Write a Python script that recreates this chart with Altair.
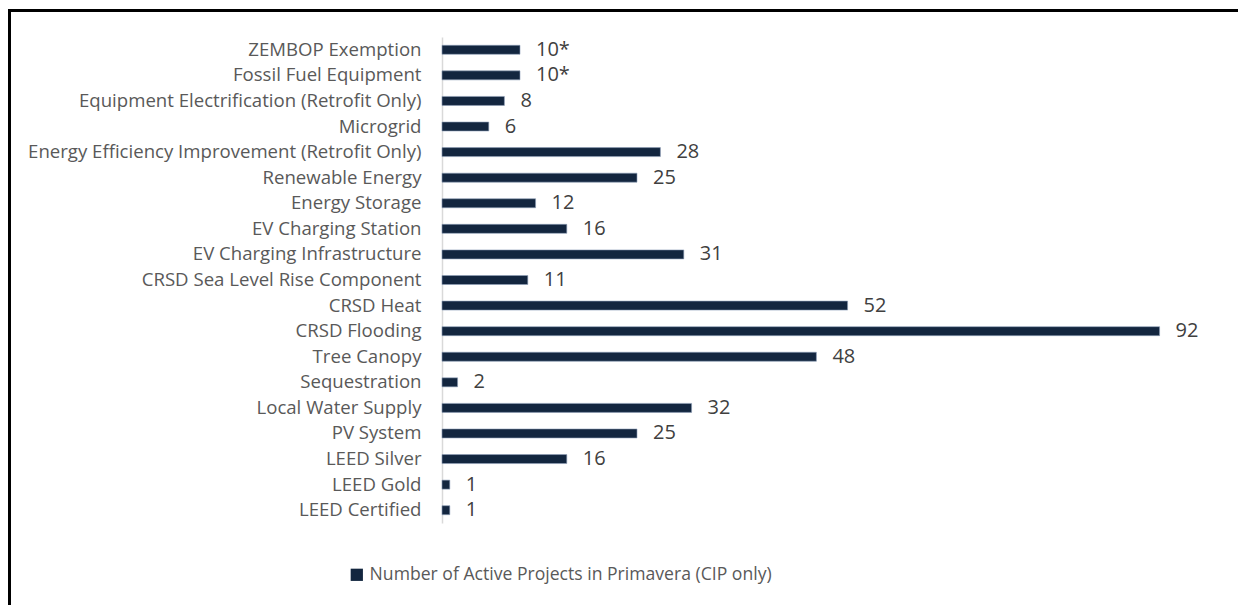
import altair as alt
import pandas as pd

categories = [
    "ZEMBOP Exemption",
    "Fossil Fuel Equipment",
    "Equipment Electrification (Retrofit Only)",
    "Microgrid",
    "Energy Efficiency Improvement (Retrofit Only)",
    "Renewable Energy",
    "Energy Storage",
    "EV Charging Station",
    "EV Charging Infrastructure",
    "CRSD Sea Level Rise Component",
    "CRSD Heat",
    "CRSD Flooding",
    "Tree Canopy",
    "Sequestration",
    "Local Water Supply",
    "PV System",
    "LEED Silver",
    "LEED Gold",
    "LEED Certified",
]
values = [10, 10, 8, 6, 28, 25, 12, 16, 31, 11, 52, 92, 48, 2, 32, 25, 16, 1, 1]
value_labels = ["10*", "10*", "8", "6", "28", "25", "12", "16", "31", "11",
                "52", "92", "48", "2", "32", "25", "16", "1", "1"]
series_name = "Number of Active Projects in Primavera (CIP only)"

df = pd.DataFrame({
    "category": categories,
    "value": values,
    "label": value_labels,
    "series": [series_name] * len(categories),
})

NAVY = "#13263f"
FONT = "Open Sans"

y_enc = alt.Y("category:N", sort=categories, title=None,
              scale=alt.Scale(paddingInner=0.64, paddingOuter=0.32),
              axis=alt.Axis(labelFont=FONT, labelFontSize=18.6, labelColor="#595959",
                            labelPadding=21, ticks=False, domainColor="#d9d9d9",
                            domainWidth=1.5, labelLimit=500))
x_enc = alt.X("value:Q", scale=alt.Scale(domain=[0, 100]), axis=None)

bars = alt.Chart(df).mark_bar(size=9, stroke="#8ea0b8", strokeWidth=0.6).encode(
    y=y_enc,
    x=x_enc,
    color=alt.Color("series:N", scale=alt.Scale(range=[NAVY]), title=None,
                    legend=alt.Legend(orient="none", legendX=-94, legendY=529,
                                      symbolType="square", symbolSize=150,
                                      symbolStrokeWidth=0,
                                      labelFont=FONT, labelFontSize=17.6,
                                      labelColor="#595959", labelLimit=800,
                                      labelOffset=4)),
)

texts = alt.Chart(df).mark_text(align="left", baseline="middle", dx=16,
                                font=FONT, fontSize=20, color="#404040").encode(
    y=alt.Y("category:N", sort=categories),
    x=x_enc,
    text="label:N",
)

border = alt.Chart(df).mark_rect(fill=None, stroke="black", strokeWidth=2.5).encode(
    x=alt.value(-432.5), x2=alt.value(1200),
    y=alt.value(-26.5), y2=alt.value(700),
)

chart = alt.layer(border, bars, texts).properties(
    width=780, height=486,
    padding={"left": 434, "top": 29, "right": 16, "bottom": 82},
    autosize=alt.AutoSizeParams(type="none"),
).configure(background="white", view=alt.ViewConfig(stroke=None, strokeWidth=0))

chart.save("out.html", embed_options={"renderer": "svg", "actions": False})
